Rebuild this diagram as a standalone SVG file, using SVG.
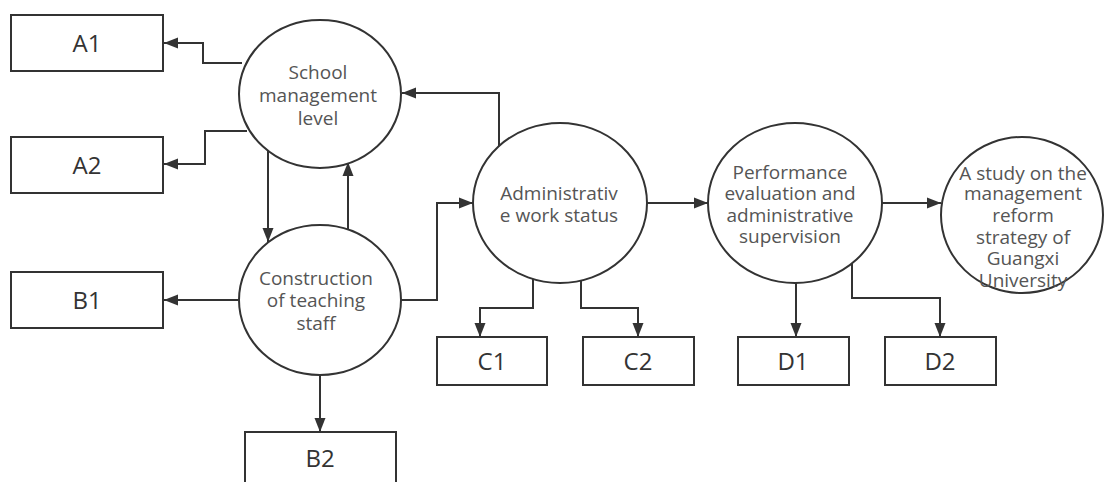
<svg xmlns="http://www.w3.org/2000/svg" width="1104" height="482" viewBox="0 0 1104 482">
<style>
.box{fill:#fff;stroke:#333;stroke-width:2}
.circ{fill:#fff;stroke:#333;stroke-width:2}
.lbl{font-family:"Open Sans","Noto Sans",sans-serif;font-size:24px;fill:#333;text-anchor:middle}
.ct{font-family:"Open Sans","Noto Sans",sans-serif;font-size:19px;fill:#555;text-anchor:middle}
.con{fill:none;stroke:#333;stroke-width:2;marker-end:url(#arr)}
</style>
<defs>
<marker id="arr" markerUnits="userSpaceOnUse" markerWidth="15" markerHeight="12" refX="14" refY="6" orient="auto">
<path d="M0,0.5 L14,6 L0,11.5 z" fill="#333"/>
</marker>
</defs>
<rect width="1104" height="482" fill="#fff"/>
<g id="connectors">
<path class="con" d="M242,63 H203 V43 H164"/>
<path class="con" d="M247,131 H205 V164 H164"/>
<path class="con" d="M268,151 V242"/>
<path class="con" d="M348,230 V162"/>
<path class="con" d="M499,146 V93 H402"/>
<path class="con" d="M238,300 H164"/>
<path class="con" d="M320,375 V432"/>
<path class="con" d="M401,300 H437 V203 H473"/>
<path class="con" d="M647,203 H708"/>
<path class="con" d="M533,279 V308 H480 V337"/>
<path class="con" d="M581,281 V308 H638 V337"/>
<path class="con" d="M796,283 V337"/>
<path class="con" d="M852,263 V298 H940 V337"/>
<path class="con" d="M882,203 H941"/>
</g>
<g id="A1"><rect class="box" x="11" y="15" width="152" height="56"/><text class="lbl" x="87" y="52">A1</text></g>
<g id="A2"><rect class="box" x="11" y="137" width="152" height="56"/><text class="lbl" x="87" y="174">A2</text></g>
<g id="B1"><rect class="box" x="11" y="272" width="152" height="56"/><text class="lbl" x="87" y="309">B1</text></g>
<g id="B2"><rect class="box" x="245" y="432" width="151" height="58"/><text class="lbl" x="320" y="467">B2</text></g>
<g id="C1"><rect class="box" x="437" y="337" width="110" height="48"/><text class="lbl" x="492" y="370">C1</text></g>
<g id="C2"><rect class="box" x="583" y="337" width="111" height="48"/><text class="lbl" x="638" y="370">C2</text></g>
<g id="D1"><rect class="box" x="738" y="337" width="111" height="48"/><text class="lbl" x="793" y="370">D1</text></g>
<g id="D2"><rect class="box" x="885" y="337" width="111" height="48"/><text class="lbl" x="940" y="370">D2</text></g>
<g id="school"><ellipse class="circ" cx="320" cy="94" rx="81" ry="74"/>
<text class="ct" x="318" y="79">School</text><text class="ct" x="318" y="102">management</text><text class="ct" x="318" y="125">level</text></g>
<g id="construction"><ellipse class="circ" cx="320" cy="300" rx="81" ry="75"/>
<text class="ct" x="316" y="285">Construction</text><text class="ct" x="316" y="307">of teaching</text><text class="ct" x="316" y="330">staff</text></g>
<g id="admin"><ellipse class="circ" cx="560" cy="203" rx="87" ry="80"/>
<text class="ct" x="559" y="200">Administrativ</text><text class="ct" x="559" y="222">e work status</text></g>
<g id="performance"><ellipse class="circ" cx="795" cy="203" rx="87" ry="80"/>
<text class="ct" x="790" y="179">Performance</text><text class="ct" x="790" y="200">evaluation and</text><text class="ct" x="790" y="222">administrative</text><text class="ct" x="790" y="243">supervision</text></g>
<g id="study"><ellipse class="circ" cx="1022" cy="215" rx="81" ry="78"/>
<text class="ct" x="1023" y="180">A study on the</text><text class="ct" x="1023" y="200">management</text><text class="ct" x="1023" y="222">reform</text><text class="ct" x="1023" y="244">strategy of</text><text class="ct" x="1023" y="265">Guangxi</text><text class="ct" x="1023" y="287">University</text></g>
</svg>
